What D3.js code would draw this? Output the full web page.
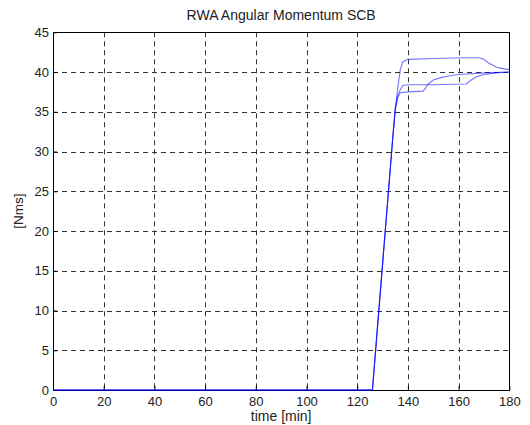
<!DOCTYPE html>
<html>
<head>
<meta charset="utf-8">
<script src="https://d3js.org/d3.v7.min.js"></script>
<style>
  html, body { margin: 0; padding: 0; background: #fff; }
  svg { display: block; }
  text { font-family: "Liberation Sans", Arial, sans-serif; fill: #222; }
</style>
</head>
<body>
<svg id="chart" width="530" height="425"></svg>
<script>
// Wheel angular momentum per reaction wheel, time in minutes
const timeA = [0, 126, 130, 134, 135, 136, 137, 138, 140, 150, 163, 168, 170, 172, 175, 178, 180];
const wheelA = [0, 0, 15.8, 31.6, 35.4, 38.0, 40.3, 41.3, 41.6, 41.7, 41.8, 41.8, 41.6, 41.1, 40.6, 40.4, 40.3];

const timeB = [0, 126, 130, 134, 135, 136, 137, 140, 146, 147, 148, 150, 153, 156, 160, 170, 180];
const wheelB = [0, 0, 15.8, 31.6, 35.2, 36.8, 37.4, 37.5, 37.6, 38.0, 38.5, 39.0, 39.3, 39.5, 39.7, 39.9, 40.0];

const timeC = [0, 126, 130, 134, 135, 136, 137, 138, 140, 150, 163, 165, 167, 170, 175, 180];
const wheelC = [0, 0, 15.8, 31.6, 35.3, 37.0, 37.8, 38.3, 38.4, 38.4, 38.5, 39.0, 39.4, 39.7, 39.9, 40.0];

const xTicks = [0, 20, 40, 60, 80, 100, 120, 140, 160, 180];
const yTicks = [0, 5, 10, 15, 20, 25, 30, 35, 40, 45];

const titleText = "RWA Angular Momentum SCB";
const xLabel = "time [min]";
const yLabel = "[Nms]";

const svg = d3.select("#chart");
const m = { left: 53, right: 509.3, top: 32.3, bottom: 390 };

const x = d3.scaleLinear().domain([0, 180]).range([m.left, m.right]);
const y = d3.scaleLinear().domain([0, 45]).range([m.bottom, m.top]);

// dashed grid
const grid = svg.append("g");
grid.selectAll(".gx").data(xTicks.slice(1, -1)).join("line")
  .attr("x1", d => Math.round(x(d)) + 0.5).attr("x2", d => Math.round(x(d)) + 0.5)
  .attr("y1", m.top).attr("y2", m.bottom)
  .attr("stroke", "#333").attr("stroke-width", 1).attr("stroke-dasharray", "5,4");
grid.selectAll(".gy").data(yTicks.slice(1, -1)).join("line")
  .attr("y1", d => Math.round(y(d)) + 0.5).attr("y2", d => Math.round(y(d)) + 0.5)
  .attr("x1", m.left).attr("x2", m.right)
  .attr("stroke", "#333").attr("stroke-width", 1).attr("stroke-dasharray", "5,4");

// frame
svg.append("rect")
  .attr("x", Math.round(m.left) + 0.5).attr("y", Math.round(m.top) + 0.5)
  .attr("width", Math.round(m.right) - Math.round(m.left))
  .attr("height", Math.round(m.bottom) - Math.round(m.top))
  .attr("fill", "none").attr("stroke", "#000").attr("stroke-width", 1);

// axes with inward ticks
const xAxis = d3.axisBottom(x).tickValues(xTicks).tickSizeInner(-4).tickSizeOuter(0).tickPadding(7);
const yAxis = d3.axisLeft(y).tickValues(yTicks).tickSizeInner(-4).tickSizeOuter(0).tickPadding(4);

const gx = svg.append("g").attr("transform", `translate(0,${m.bottom})`).call(xAxis);
const gy = svg.append("g").attr("transform", `translate(${m.left},0)`).call(yAxis);
[gx, gy].forEach(g => {
  g.select(".domain").remove();
  g.selectAll(".tick line").attr("stroke", "#000");
  g.selectAll(".tick text").attr("font-size", 13).style("fill", "#222");
});

// series
const line = d3.line().x(d => x(d[0])).y(d => y(d[1]));
const series = [
  d3.zip(timeA, wheelA),
  d3.zip(timeB, wheelB),
  d3.zip(timeC, wheelC)
];
svg.append("g").selectAll("path").data(series).join("path")
  .attr("d", line)
  .attr("fill", "none")
  .attr("stroke", "#0000ff")
  .attr("stroke-opacity", 0.55)
  .attr("stroke-width", 1.1);

// labels
svg.append("text").attr("x", (m.left + m.right) / 2).attr("y", 20)
  .attr("text-anchor", "middle").attr("font-size", 14).text(titleText);
svg.append("text").attr("x", (m.left + m.right) / 2).attr("y", 421)
  .attr("text-anchor", "middle").attr("font-size", 14).text(xLabel);
svg.append("text")
  .attr("transform", `translate(23,${(m.top + m.bottom) / 2}) rotate(-90)`)
  .attr("text-anchor", "middle").attr("font-size", 13.5).text(yLabel);
</script>
</body>
</html>
